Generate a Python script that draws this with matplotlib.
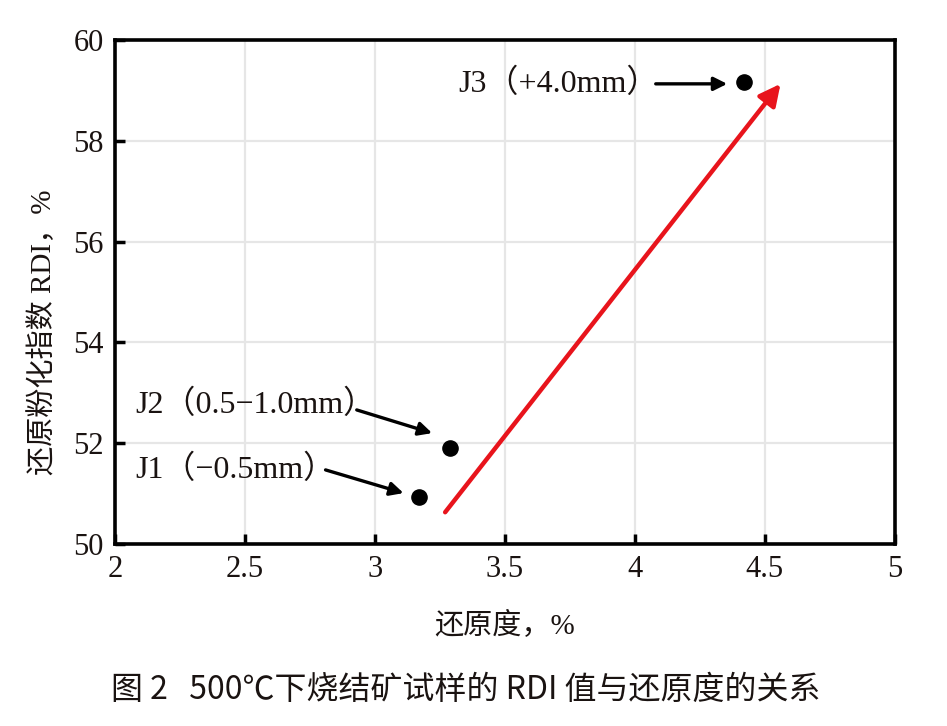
import matplotlib
matplotlib.use('Agg')
import matplotlib.pyplot as plt

# data
samples = ['J1（−0.5mm）', 'J2（0.5−1.0mm）', 'J3（+4.0mm）']
reduction = [3.17, 3.29, 4.42]      # 还原度, %
rdi = [50.93, 51.90, 59.17]         # RDI, %

x_ticks = [2, 2.5, 3, 3.5, 4, 4.5, 5]
x_tick_labels = ['2', '2.5', '3', '3.5', '4', '4.5', '5']
y_ticks = [50, 52, 54, 56, 58, 60]

# trend arrow (tail, head)
trend_start = (3.27, 50.63)
trend_end = (4.56, 59.13)

SERIF = ['Liberation Serif', 'Noto Sans CJK SC']
SANS = ['Noto Sans CJK SC', 'Liberation Sans']
INK = '#1a1311'

fig = plt.figure(figsize=(9.47, 7.26), dpi=100)
ax = fig.add_axes([0.1214, 0.2507, 0.8236, 0.6942])

ax.set_xlim(2, 5)
ax.set_ylim(50, 60)
ax.set_xticks(x_ticks)
ax.set_xticklabels(x_tick_labels)
ax.set_yticks(y_ticks)
for lab in ax.get_xticklabels() + ax.get_yticklabels():
    lab.set_family(SERIF)
    lab.set_fontsize(22)
    lab.set_color(INK)

ax.grid(True, color='#e6e6e6', linewidth=1.6, zorder=0)
ax.tick_params(direction='in', length=7, width=2.5, pad=8)
for s in ax.spines.values():
    s.set_linewidth(2.6)
    s.set_color('black')

ax.scatter(reduction, rdi, s=120, color='black', zorder=5)

# labels + black arrows
text_pos = [(2.077, 51.47), (2.077, 52.76), (3.32, 59.13)]
arrow_tail = [(2.81, 51.47), (2.93, 52.66), (4.08, 59.13)]
arrow_head = [(3.11, 51.01), (3.22, 52.20), (4.355, 59.13)]
for i in range(len(samples)):
    ax.text(text_pos[i][0], text_pos[i][1], samples[i], family=SERIF,
            fontsize=23, color=INK, va='center', ha='left', zorder=6)
    ax.annotate('', xy=arrow_head[i], xytext=arrow_tail[i],
                arrowprops=dict(arrowstyle='-|>', color='black', lw=2.4,
                                mutation_scale=20, shrinkA=0, shrinkB=0),
                zorder=6)

ax.annotate('', xy=trend_end, xytext=trend_start,
            arrowprops=dict(arrowstyle='-|>', color='#e8141c', lw=3.2,
                            mutation_scale=32, shrinkA=0, shrinkB=0),
            zorder=4)

ax.set_ylabel('还原粉化指数 RDI，%', family=SERIF, fontsize=21, color=INK)
ax.yaxis.set_label_coords(-0.074, 0.42)
ax.set_xlabel('还原度，%', family=SERIF, fontsize=21, color=INK,
              labelpad=20)

fig.text(0.492, 0.05, '图 2   500℃下烧结矿试样的 RDI 值与还原度的关系',
         family=SANS, fontsize=23, fontweight='medium', ha='center',
         va='center', color=INK)

fig.savefig('out.png', dpi=100)
